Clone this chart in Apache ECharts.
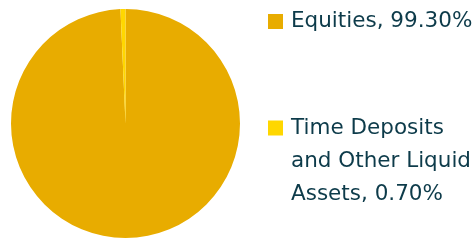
<!DOCTYPE html>
<html>
<head>
<meta charset="utf-8">
<title>Asset allocation</title>
<script src="https://cdn.jsdelivr.net/npm/echarts@6/dist/echarts.min.js"></script>
<style>
  html, body { margin: 0; padding: 0; background: #fff; }
  #main { width: 474px; height: 241px; }
</style>
</head>
<body>
<div id="main"></div>
<script>
// data
var names = ['Equities', 'Time Deposits and Other Liquid Assets'];
var labelLines = [['Equities, 99.30%'], ['', '', 'Time Deposits', 'and Other Liquid', 'Assets, 0.70%']];
var values = [99.30, 0.70];
var colors = ['#E8AC00', '#FFD700'];

var chart = echarts.init(document.getElementById('main'));
var seriesData = [];
for (var i = 0; i < names.length; i++) {
  seriesData.push({ name: names[i], value: values[i], itemStyle: { color: colors[i] } });
}

function legendText(name) {
  var lines = labelLines[names.indexOf(name)];
  return lines.map(function (l) { return l ? '{t|' + l + '}' : '{t| }'; }).join('\n');
}

var txt = {
  color: '#0D3B4A', fontFamily: 'DejaVu Sans', fontSize: 21.5, lineHeight: 33,
  rich: { t: { color: '#0D3B4A', fontFamily: 'DejaVu Sans', fontSize: 21.5, lineHeight: 33, padding: [0, 0, 0, 3] } }
};

var option = {
  animation: false,
  legend: [
    {
      data: [names[0]],
      left: 268, top: 5, padding: 0,
      icon: 'rect', itemWidth: 15, itemHeight: 15,
      selectedMode: false,
      formatter: legendText,
      textStyle: txt
    },
    {
      data: [names[1]],
      left: 268, top: 45.5, padding: 0,
      icon: 'rect', itemWidth: 15, itemHeight: 15,
      selectedMode: false,
      formatter: legendText,
      textStyle: txt
    }
  ],
  series: [{
    type: 'pie',
    center: [125.5, 123.5],
    radius: 114.5,
    startAngle: 90,
    clockwise: true,
    label: { show: false },
    labelLine: { show: false },
    emphasis: { disabled: true },
    itemStyle: { borderWidth: 0 },
    data: seriesData
  }]
};
chart.setOption(option);
</script>
</body>
</html>
